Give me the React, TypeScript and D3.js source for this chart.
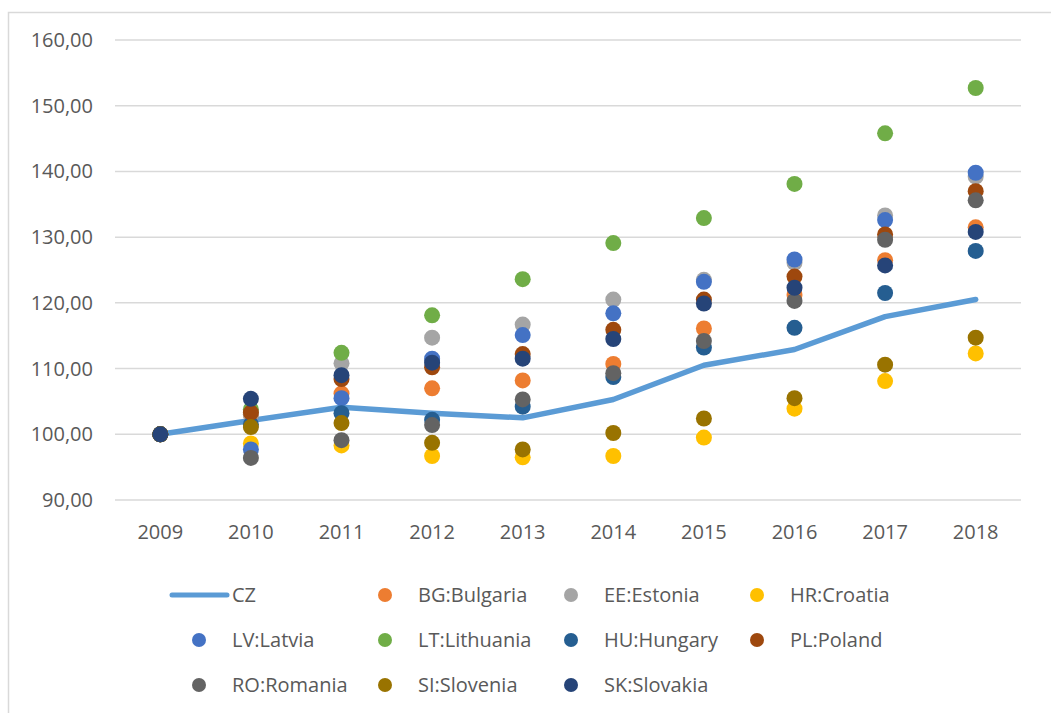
import React from "react";
import * as d3 from "d3";

const years = ["2009", "2010", "2011", "2012", "2013", "2014", "2015", "2016", "2017", "2018"];
const yTicks = [90, 100, 110, 120, 130, 140, 150, 160];

const czValues = [100, 102.1, 104.1, 103.2, 102.5, 105.3, 110.5, 112.9, 117.9, 120.5];

const bgValues = [100, 103.0, 106.2, 107.0, 108.2, 110.7, 116.1, 121.2, 126.5, 131.5];
const eeValues = [100, 103.0, 110.8, 114.7, 116.7, 120.5, 123.5, 126.1, 133.3, 139.2];
const hrValues = [100, 98.6, 98.3, 96.7, 96.5, 96.7, 99.5, 103.9, 108.1, 112.3];
const lvValues = [100, 97.7, 105.5, 111.5, 115.1, 118.4, 123.2, 126.6, 132.6, 139.8];
const ltValues = [100, 103.8, 112.4, 118.1, 123.6, 129.1, 132.9, 138.1, 145.8, 152.7];
const huValues = [100, 101.5, 103.2, 102.2, 104.2, 108.7, 113.2, 116.2, 121.5, 127.9];
const plValues = [100, 103.3, 108.4, 110.2, 112.2, 115.9, 120.5, 124.0, 130.4, 137.0];
const roValues = [100, 96.4, 99.1, 101.4, 105.3, 109.3, 114.2, 120.3, 129.6, 135.6];
const siValues = [100, 101.1, 101.7, 98.7, 97.7, 100.2, 102.4, 105.5, 110.6, 114.7];
const skValues = [100, 105.4, 109.0, 110.9, 111.5, 114.5, 119.9, 122.3, 125.7, 130.8];

const seriesNames = [
  "BG:Bulgaria", "EE:Estonia", "HR:Croatia", "LV:Latvia", "LT:Lithuania",
  "HU:Hungary", "PL:Poland", "RO:Romania", "SI:Slovenia", "SK:Slovakia",
];
const seriesValues = [
  bgValues, eeValues, hrValues, lvValues, ltValues,
  huValues, plValues, roValues, siValues, skValues,
];
const seriesColors = [
  "#ED7D31", "#A5A5A5", "#FFC000", "#4472C4", "#70AD47",
  "#255E91", "#9E480E", "#636363", "#997300", "#264478",
];

const W = 1051;
const H = 713;
const font = "'Open Sans', sans-serif";
const textColor = "#595959";

export default function App() {
  const x = d3.scaleBand().domain(years).range([115, 1021]);
  const y = d3.scaleLinear().domain([90, 160]).range([500, 40]);
  const cx = (yr: string) => (x(yr) as number) + x.bandwidth() / 2;

  const line = d3
    .line<number>()
    .x((d, i) => cx(years[i]))
    .y((d) => y(d));

  // legend: CZ first, then the scatter series, 4 per row
  const legendItems = [{ name: "CZ", color: "#5B9BD5", isLine: true }].concat(
    seriesNames.map((n, i) => ({ name: n, color: seriesColors[i], isLine: false }))
  );

  return (
    <svg
      width={W}
      height={H}
      style={{ position: "absolute", left: 0, top: 0, background: "#fff" }}
    >
      <rect x={8.5} y={12.5} width={W + 20} height={H + 20} fill="#fff" stroke="#d9d9d9" strokeWidth={1.5} />

      {yTicks.map((t) => (
        <g key={t}>
          <line x1={115} x2={1021} y1={y(t)} y2={y(t)} stroke="#d9d9d9" strokeWidth={1.5} />
          <text
            x={93}
            y={y(t)}
            dy="0.35em"
            textAnchor="end"
            fontFamily={font}
            fontSize={20}
            fill={textColor}
          >
            {t.toFixed(2).replace(".", ",")}
          </text>
        </g>
      ))}

      {years.map((yr) => (
        <text
          key={yr}
          x={cx(yr)}
          y={532}
          dy="0.35em"
          textAnchor="middle"
          fontFamily={font}
          fontSize={20}
          fill={textColor}
        >
          {yr}
        </text>
      ))}

      <path
        d={line(czValues) || ""}
        fill="none"
        stroke="#5B9BD5"
        strokeWidth={5.5}
        strokeLinejoin="round"
        strokeLinecap="round"
      />

      {seriesValues.map((vals, si) => (
        <g key={si}>
          {vals.map((v, i) => (
            <circle key={i} cx={cx(years[i])} cy={y(v)} r={8} fill={seriesColors[si]} />
          ))}
        </g>
      ))}

      {legendItems.map((it, i) => {
        const col = i % 4;
        const row = Math.floor(i / 4);
        const mx = 199 + col * 186;
        const my = 595 + row * 45;
        return (
          <g key={it.name}>
            {it.isLine ? (
              <line x1={172} x2={227} y1={my} y2={my} stroke={it.color} strokeWidth={5} strokeLinecap="round" />
            ) : (
              <circle cx={mx} cy={my} r={7} fill={it.color} />
            )}
            <text
              x={mx + 33}
              y={my}
              dy="0.35em"
              fontFamily={font}
              fontSize={20}
              fill={textColor}
            >
              {it.name}
            </text>
          </g>
        );
      })}
    </svg>
  );
}
